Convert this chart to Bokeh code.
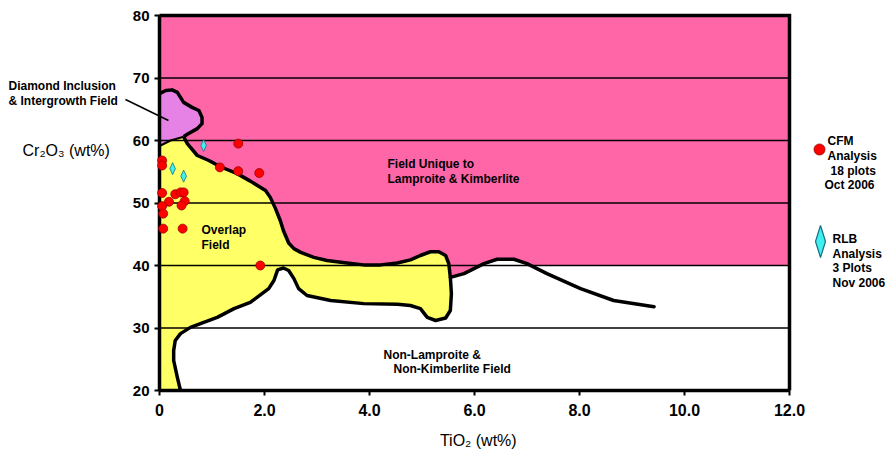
import numpy as np
from bokeh.plotting import figure
from bokeh.models import Range1d, FixedTicker
from bokeh.embed import file_html
from bokeh.resources import INLINE
from bokeh.core.properties import value

# ---------------- data ----------------
cfm_tio2 = [0.05, 0.05, 1.50, 1.15, 1.50, 1.90, 0.05, 0.30, 0.40, 0.46, 0.18, 0.05, 0.48, 0.42, 0.07, 0.07, 0.44, 1.92]
cfm_cr2o3 = [56.8, 56.0, 59.5, 55.7, 55.1, 54.8, 51.6, 51.4, 51.7, 51.7, 50.2, 49.5, 50.3, 49.6, 48.3, 45.9, 45.9, 40.0]
rlb_tio2 = [0.84, 0.25, 0.46]
rlb_cr2o3 = [59.2, 55.5, 54.3]

x_ticks = [0, 2, 4, 6, 8, 10, 12]
x_tick_labels = ["0", "2.0", "4.0", "6.0", "8.0", "10.0", "12.0"]
y_ticks = [20, 30, 40, 50, 60, 70, 80]
x_min, x_max = 0, 12
y_min, y_max = 20, 80

# field boundaries (TiO2, Cr2O3)
diamond_top_x = [0.0, 0.12, 0.24, 0.34, 0.46, 0.62, 0.75, 0.81, 0.81, 0.72, 0.53, 0.46]
diamond_top_y = [67.5, 68.0, 68.1, 67.7, 66.1, 65.3, 64.8, 63.7, 62.7, 61.9, 61.0, 60.6]
diamond_bottom_x = [0.46, 0.21, 0.02, 0.0]
diamond_bottom_y = [60.6, 60.0, 59.2, 59.2]

upper_x = [0.46, 0.53, 0.59, 0.72, 0.94, 1.16, 1.48, 1.73, 2.02, 2.11, 2.21, 2.30, 2.36, 2.46, 2.56,
           2.69, 2.94, 3.19, 3.57, 3.89, 4.21, 4.53, 4.78, 4.97, 5.16, 5.32, 5.45, 5.51, 5.54]
upper_y = [60.6, 59.5, 58.9, 57.6, 56.8, 55.8, 54.7, 53.5, 52.0, 50.9, 49.1, 47.2, 45.6, 43.6, 42.7,
           42.1, 41.3, 40.8, 40.4, 40.1, 40.1, 40.4, 40.9, 41.6, 42.2, 42.2, 41.6, 40.3, 38.1]

lower_x = [5.54, 5.56, 5.54, 5.45, 5.26, 5.10, 4.97, 4.78, 4.53, 3.89, 3.26, 2.81, 2.65, 2.56, 2.46,
           2.36, 2.25, 2.18, 2.08, 1.73, 1.42, 1.10, 0.78, 0.59, 0.40, 0.30, 0.27, 0.27, 0.34, 0.40]
lower_y = [38.1, 35.5, 32.8, 31.6, 31.2, 31.7, 33.1, 33.6, 33.8, 33.9, 34.4, 35.2, 36.3, 37.9, 39.2,
           39.6, 39.3, 37.6, 36.3, 34.1, 33.1, 31.7, 30.7, 30.1, 29.1, 28.0, 26.4, 24.8, 22.1, 20.0]

right_x = [5.54, 5.80, 6.18, 6.43, 6.75, 7.00, 7.38, 8.02, 8.65, 9.42]
right_y = [38.1, 38.7, 40.3, 41.0, 41.0, 40.3, 38.7, 36.3, 34.4, 33.4]

PINK = "#FF66A8"
YELLOW = "#FFFF66"
VIOLET = "#E682E6"
RED = "#FF0000"
RED_EDGE = "#9A0000"
CYAN = "#40F0F0"
CYAN_EDGE = "#1A6E80"
FONT = value("Liberation Sans")

# ---------------- geometry: canvas pixels <-> data ----------------
W, H = 886, 463
FX0, FX1 = 159, 789      # pixel columns of TiO2 = 0 and 12
FY0, FY1 = 15, 390       # pixel rows of Cr2O3 = 80 and 20
sx = (FX1 - FX0) / (x_max - x_min)
sy = (FY1 - FY0) / (y_max - y_min)


def px_to_data(ix, iy):
    return x_min + (ix - FX0) / sx, y_max - (iy - FY0) / sy


x_lo, y_hi = px_to_data(0, 0)
x_hi, y_lo = px_to_data(W, H)

# ---------------- derived polygons ----------------
rx = np.array(right_x); ry = np.array(right_y)
above = ry > 40
i0 = int(np.argmax(above))
i1 = int(len(ry) - np.argmax(above[::-1]) - 1)
xa = rx[i0 - 1] + (40 - ry[i0 - 1]) * (rx[i0] - rx[i0 - 1]) / (ry[i0] - ry[i0 - 1])
xb = rx[i1] + (40 - ry[i1]) * (rx[i1 + 1] - rx[i1]) / (ry[i1 + 1] - ry[i1])
bump_x = [xa] + list(rx[i0:i1 + 1]) + [xb]
bump_y = [40] + list(ry[i0:i1 + 1]) + [40]
dip_x = [rx[0]] + list(rx[:i0]) + [xa]
dip_y = [40] + list(ry[:i0]) + [40]

yellow_x = [0.0] + diamond_bottom_x[::-1][1:] + upper_x[1:] + lower_x[1:] + [0.0]
yellow_y = [59.2] + diamond_bottom_y[::-1][1:] + upper_y[1:] + lower_y[1:] + [20.0]
violet_x = diamond_top_x + diamond_bottom_x[1:]
violet_y = diamond_top_y + diamond_bottom_y[1:]


# tall thin diamond markers (half sizes in pixels)
def diamonds(xc, yc, hw_px, hh_px):
    hw, hh = hw_px / sx, hh_px / sy
    xs = [[x - hw, x, x + hw, x] for x in xc]
    ys = [[y, y + hh, y, y - hh] for y in yc]
    return xs, ys


# ---------------- figure ----------------
p = figure(width=W, height=H, output_backend="svg", toolbar_location=None,
           x_range=Range1d(x_lo, x_hi), y_range=Range1d(y_lo, y_hi),
           min_border=0, min_border_left=0, min_border_right=0,
           min_border_top=0, min_border_bottom=0)
p.background_fill_color = "white"
p.border_fill_color = "white"
p.outline_line_color = None
p.grid.visible = False

p.quad(left=[x_min], right=[x_max], bottom=[40], top=[y_max], fill_color=PINK, line_color=None, level="image")
p.patch(bump_x, bump_y, fill_color="white", line_color=None, level="image")
p.patch(dip_x, dip_y, fill_color=PINK, line_color=None, level="image")
p.patch(yellow_x, yellow_y, fill_color=YELLOW, line_color=None, level="image")
p.patch(violet_x, violet_y, fill_color=VIOLET, line_color=None, level="image")

# horizontal grid lines at the y ticks, limited to the plot box
p.segment(x0=[x_min] * len(y_ticks), x1=[x_max] * len(y_ticks), y0=y_ticks, y1=y_ticks,
          line_color="black", line_width=1.3, level="underlay")

# plot box (top and right edges)
p.line([x_min, x_max, x_max], [y_max, y_max, y_min], line_color="black", line_width=3.5, line_join="miter")

p.line(diamond_top_x, diamond_top_y, line_color="black", line_width=3.5, line_join="round")
p.line(diamond_bottom_x, diamond_bottom_y, line_color="black", line_width=2)
p.line(upper_x, upper_y, line_color="black", line_width=3.5, line_join="round")
p.line(lower_x, lower_y, line_color="black", line_width=3.5, line_join="round")
p.line(right_x, right_y, line_color="black", line_width=3.5, line_join="round", line_cap="round")

# leader line of the diamond-field note
lx0, ly0 = px_to_data(125, 99)
lx1, ly1 = px_to_data(168, 120)
p.line([lx0, lx1], [ly0, ly1], line_color="black", line_width=1.5)

p.scatter(cfm_tio2, cfm_cr2o3, marker="circle", size=9, fill_color=RED, line_color=RED_EDGE,
          line_width=0.8, level="overlay")
dxs, dys = diamonds(rlb_tio2, rlb_cr2o3, 2.8, 6)
p.patches(dxs, dys, fill_color=CYAN, line_color=CYAN_EDGE, line_width=0.8, level="overlay")

# axes fixed at the data origin
p.xaxis.fixed_location = y_min
p.yaxis.fixed_location = x_min
p.xaxis.bounds = (x_min, x_max)
p.yaxis.bounds = (y_min, y_max)
p.xaxis.ticker = FixedTicker(ticks=x_ticks)
p.xaxis.major_label_overrides = {t: l for t, l in zip(x_ticks, x_tick_labels)}
p.yaxis.ticker = FixedTicker(ticks=y_ticks)
for ax in (p.xaxis[0], p.yaxis[0]):
    ax.axis_line_width = 3.5
    ax.axis_line_color = "black"
    ax.major_tick_line_color = "black"
    ax.major_tick_line_width = 2
    ax.major_tick_in = 0
    ax.major_tick_out = 5
    ax.minor_tick_line_color = None
    ax.major_label_text_font = "Liberation Sans"
    ax.major_label_text_font_style = "bold"
    ax.major_label_text_color = "black"
p.xaxis.major_label_text_font_size = "16px"
p.xaxis.major_label_standoff = 8
p.yaxis.major_label_text_font_size = "15px"
p.yaxis.major_label_standoff = 5

# ---------------- texts ----------------
labels = [
    ("Diamond Inclusion", 8, 85, "12px", "bold", "left"),
    ("& Intergrowth Field", 8, 100, "12px", "bold", "left"),
    ("Field Unique to", 387, 163, "12px", "bold", "left"),
    ("Lamproite & Kimberlite", 387, 178.5, "12px", "bold", "left"),
    ("Overlap", 201, 229.5, "12px", "bold", "left"),
    ("Field", 201, 244, "12px", "bold", "left"),
    ("Non-Lamproite &", 383, 354, "12px", "bold", "left"),
    ("Non-Kimberlite Field", 393, 368.5, "12px", "bold", "left"),
    ("Cr\u2082O\u2083 (wt%)", 22, 150, "16px", "normal", "left"),
    ("TiO\u2082  (wt%)", 480, 440, "16px", "normal", "center"),
    ("CFM", 827, 140, "12px", "bold", "left"),
    ("Analysis", 827, 155, "12px", "bold", "left"),
    ("18 plots", 830, 170, "12px", "bold", "left"),
    ("Oct 2006", 824, 184.5, "12px", "bold", "left"),
    ("RLB", 832, 238, "12px", "bold", "left"),
    ("Analysis", 832, 253, "12px", "bold", "left"),
    ("3 Plots", 832, 267, "12px", "bold", "left"),
    ("Nov 2006", 832, 282, "12px", "bold", "left"),
]
for txt, ix, iy, size, style, align in labels:
    x, y = px_to_data(ix, iy)
    p.text([x], [y], text=[txt], text_font=FONT, text_font_size=size, text_font_style=style,
           text_color="black", text_baseline="middle", text_align=align)

# legend keys
kx, ky = px_to_data(819, 149)
p.scatter([kx], [ky], marker="circle", size=11, fill_color=RED, line_color=RED_EDGE, line_width=0.8)
kx2, ky2 = px_to_data(820, 241)
lxs, lys = diamonds([kx2], [ky2], 5, 16)
p.patches(lxs, lys, fill_color=CYAN, line_color=CYAN_EDGE, line_width=1.2)

open("out.html", "w").write(file_html(p, INLINE))
